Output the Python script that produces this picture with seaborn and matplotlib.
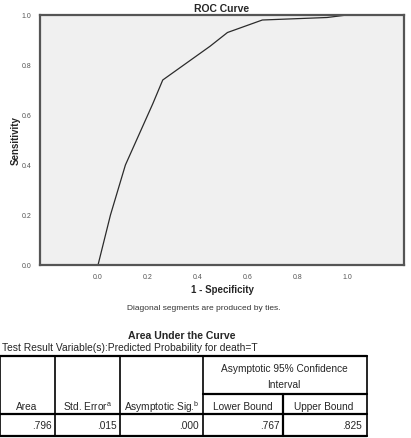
import pandas as pd
import seaborn as sns
import matplotlib.pyplot as plt
from matplotlib.lines import Line2D

# ROC curve points
fpr = [0.0, 0.05, 0.11, 0.22, 0.26, 0.45, 0.52, 0.66, 0.92, 1.0]
tpr = [0.0, 0.20, 0.40, 0.645, 0.74, 0.875, 0.93, 0.98, 0.99, 1.0]

x_ticks = [0.0, 0.2, 0.4, 0.6, 0.8, 1.0]
y_ticks = [0.0, 0.2, 0.4, 0.6, 0.8, 1.0]

# Area Under the Curve table
auc_area = ".796"
auc_std_err = ".015"
auc_sig = ".000"
auc_lower = ".767"
auc_upper = ".825"

W, H = 411, 439
df = pd.DataFrame({'fpr': fpr, 'tpr': tpr})

sns.set_style('white')
plt.rcParams['font.family'] = ['Liberation Sans', 'DejaVu Sans']

fig = plt.figure(figsize=(W / 100, H / 100), dpi=100)
ax = fig.add_axes([40 / W, 1 - 266 / H, 364 / W, 250 / H])
ax.set_facecolor('#f0f0f0')

sns.lineplot(data=df, x='fpr', y='tpr', ax=ax, color='#2b2b2b', linewidth=0.9)

ax.set_xlim(-0.233, 1.229)
ax.set_ylim(0, 1)
ax.set_xticks(x_ticks)
ax.set_yticks(y_ticks)
ax.set_xticklabels([f'{t:.1f}' for t in x_ticks], fontsize=5, color='#555555')
ax.set_yticklabels([f'{t:.1f}' for t in y_ticks], fontsize=5, color='#555555')
ax.tick_params(axis='both', length=3, width=0.8, color='#333333', pad=3)
for s in ax.spines.values():
    s.set_linewidth(1.6)
    s.set_color('#555555')

ax.set_xlabel('1 - Specificity', fontsize=7, fontweight='bold', labelpad=3)
ax.set_ylabel('Sensitivity', fontsize=7, fontweight='bold', labelpad=1)
ax.set_title('ROC Curve', fontsize=7.5, fontweight='bold', pad=3)


def fx(px):
    return px / W


def fy(py):
    return 1 - py / H


fig.text(fx(204), fy(309), 'Diagonal segments are produced by ties.',
         fontsize=6, color='#333333', ha='center', va='center')

# table title
fig.text(fx(182), fy(336), 'Area Under the Curve', fontsize=7.6, fontweight='bold',
         ha='center', va='center')
fig.text(fx(2), fy(348), 'Test Result Variable(s):Predicted Probability for death=T',
         fontsize=7.4, ha='left', va='center')


def hline(x0, x1, y, lw=1.0):
    fig.add_artist(Line2D([fx(x0), fx(x1)], [fy(y), fy(y)], color='black', lw=lw))


def vline(x, y0, y1, lw=1.0):
    fig.add_artist(Line2D([fx(x), fx(x)], [fy(y0), fy(y1)], color='black', lw=lw))


top, mid, hdr, bot = 357, 395, 415, 437
cols = [0, 55, 120, 203, 367]
hline(0, 367, top, 1.6)
hline(203, 367, mid, 1.6)
hline(0, 367, hdr, 1.6)
hline(0, 367, bot, 1.6)
for c in cols:
    vline(c, top, bot, 1.2)
vline(283, mid, bot, 1.6)

fs = 7.3
fig.text(fx(284), fy(369), 'Asymptotic 95% Confidence', fontsize=fs, ha='center', va='center')
fig.text(fx(284), fy(385), 'Interval', fontsize=fs, ha='center', va='center')
fig.text(fx(27), fy(407), 'Area', fontsize=fs, ha='center', va='center')
fig.text(fx(88), fy(407), 'Std. Error$^{\\mathregular{a}}$', fontsize=fs, ha='center', va='center')
fig.text(fx(162), fy(407), 'Asymptotic Sig.$^{\\mathregular{b}}$', fontsize=fs, ha='center', va='center')
fig.text(fx(243), fy(407), 'Lower Bound', fontsize=fs, ha='center', va='center')
fig.text(fx(324), fy(407), 'Upper Bound', fontsize=fs, ha='center', va='center')

for val, right in zip([auc_area, auc_std_err, auc_sig, auc_lower, auc_upper],
                      [52, 117, 199, 280, 362]):
    fig.text(fx(right), fy(426), val, fontsize=fs, ha='right', va='center')

fig.savefig('out.png', dpi=100)
